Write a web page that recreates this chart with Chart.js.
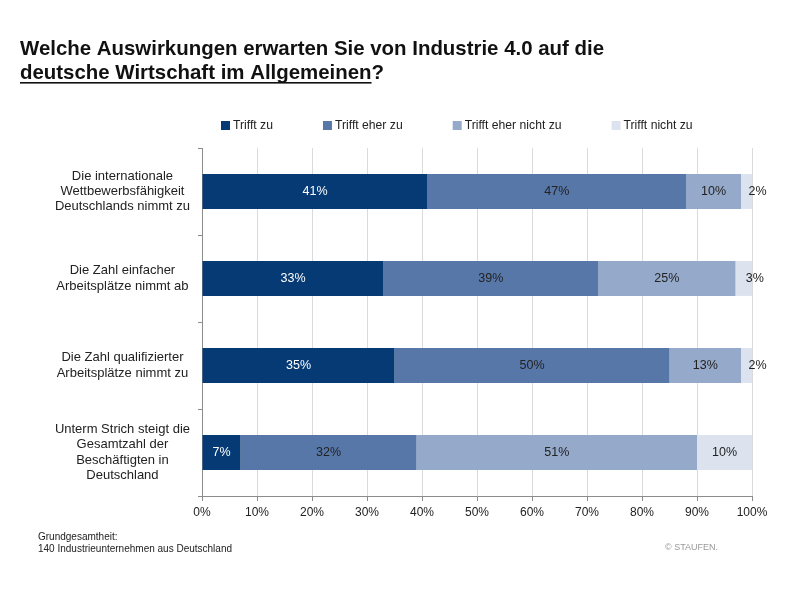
<!DOCTYPE html>
<html>
<head>
<meta charset="utf-8">
<script src="https://cdn.jsdelivr.net/npm/chart.js@4"></script>
<style>
    html, body { margin: 0; padding: 0; background: #fff; }
    #wrap { width: 800px; height: 593px; }
</style>
</head>
<body>
<div id="wrap"><canvas id="chart-bar" width="800" height="593"></canvas></div>
<script>
const categories = [
    ['Die internationale', 'Wettbewerbsfähigkeit', 'Deutschlands nimmt zu'],
    ['Die Zahl einfacher', 'Arbeitsplätze nimmt ab'],
    ['Die Zahl qualifizierter', 'Arbeitsplätze nimmt zu'],
    ['Unterm Strich steigt die', 'Gesamtzahl der', 'Beschäftigten in', 'Deutschland']
]
const seriesNames = ['Trifft zu', 'Trifft eher zu', 'Trifft eher nicht zu', 'Trifft nicht zu']
const trifftZu = [41, 33, 35, 7]
const trifftEherZu = [47, 39, 50, 32]
const trifftEherNichtZu = [10, 25, 13, 51]
const trifftNichtZu = [2, 3, 2, 10]
const xTicks = [0, 10, 20, 30, 40, 50, 60, 70, 80, 90, 100]

const colors = ['#063a74', '#5877a9', '#95a9ca', '#dce3ef']
const labelColors = ['#ffffff', '#222222', '#222222', '#222222']
const FONT = "'Liberation Sans', Arial, sans-serif"

// title, legend, footer
const decorPlugin = {
    id: 'decor',
    afterDraw(chart) {
        const ctx = chart.ctx
        ctx.save()
        ctx.fillStyle = '#111'
        ctx.textBaseline = 'alphabetic'
        ctx.textAlign = 'left'
        ctx.font = 'bold 21px ' + FONT

        let line1 = 'Welche Auswirkungen erwarten Sie von Industrie 4.0 auf die'
        let w1 = ctx.measureText(line1).width
        let sx = 584 / w1
        ctx.save()
        ctx.translate(20, 55)
        ctx.scale(sx, 1)
        ctx.fillText(line1, 0, 0)
        ctx.restore()

        let part = 'deutsche Wirtschaft im Allgemeinen'
        let wp = ctx.measureText(part).width * sx
        ctx.save()
        ctx.translate(20, 79)
        ctx.scale(sx, 1)
        ctx.fillText(part + '?', 0, 0)
        ctx.restore()
        ctx.fillRect(20, 82, wp, 1.6)

        // legend
        ctx.font = '12.2px ' + FONT
        ctx.textBaseline = 'middle'
        let x = 221
        chart.data.datasets.forEach((ds, i) => {
            ctx.fillStyle = ds.backgroundColor
            ctx.fillRect(x, 121, 9, 9)
            ctx.fillStyle = '#222'
            ctx.fillText(ds.label, x + 12, 126)
            x += 12 + ctx.measureText(ds.label).width + 50
        })

        // footer
        ctx.fillStyle = '#222'
        ctx.font = '10px ' + FONT
        ctx.fillText('Grundgesamtheit:', 38, 537)
        ctx.fillText('140 Industrieunternehmen aus Deutschland', 38, 549)
        ctx.fillStyle = '#999'
        ctx.font = '9px ' + FONT
        ctx.fillText('© STAUFEN.', 665, 548)
        ctx.restore()
    }
}

// values on the bars
const valuePlugin = {
    id: 'values',
    afterDatasetsDraw(chart) {
        const ctx = chart.ctx
        ctx.save()
        ctx.font = '12.5px ' + FONT
        ctx.textBaseline = 'middle'
        chart.data.datasets.forEach((ds, i) => {
            chart.getDatasetMeta(i).data.forEach((bar, j) => {
                let v = ds.data[j]
                let cx = (bar.x + bar.base) / 2
                ctx.fillStyle = labelColors[i]
                if (v < 5) {
                    ctx.textAlign = 'left'
                    ctx.fillText(v + '%', cx + 2, bar.y)
                } else {
                    ctx.textAlign = 'center'
                    ctx.fillText(v + '%', cx, bar.y)
                }
            })
        })
        ctx.restore()
    }
}

let values = [trifftZu, trifftEherZu, trifftEherNichtZu, trifftNichtZu]

new Chart(document.getElementById('chart-bar'), {
    type: 'bar',
    data: {
        labels: categories,
        datasets: seriesNames.map((name, i) => ({
            label: name,
            data: values[i],
            backgroundColor: colors[i],
            borderWidth: 0,
            barPercentage: 0.4,
            categoryPercentage: 1.0
        }))
    },
    options: {
        responsive: false,
        animation: false,
        indexAxis: 'y',
        layout: {
            padding: { top: 148, right: 48, bottom: 67, left: 0 }
        },
        scales: {
            x: {
                stacked: true,
                min: 0,
                max: 100,
                afterBuildTicks: (scale) => { scale.ticks = xTicks.map(v => ({ value: v })) },
                afterFit: (scale) => { scale.height = 30 },
                ticks: {
                    color: '#222',
                    font: { family: FONT, size: 12 },
                    padding: 4,
                    callback: (v) => v + '%'
                },
                border: { display: true, color: '#8c8c8c', width: 1 },
                grid: {
                    display: true,
                    color: '#dadada',
                    lineWidth: 1,
                    tickLength: 5,
                    tickColor: '#8c8c8c'
                }
            },
            y: {
                stacked: true,
                afterFit: (scale) => { scale.width = 202 },
                ticks: {
                    color: '#222',
                    font: { family: FONT, size: 13, lineHeight: 1.18 },
                    crossAlign: 'center',
                    padding: 8
                },
                border: { display: true, color: '#8c8c8c', width: 1 },
                grid: {
                    display: true,
                    offset: true,
                    drawOnChartArea: false,
                    tickLength: 4,
                    tickColor: '#8c8c8c'
                }
            }
        },
        plugins: {
            title: { display: false },
            legend: { display: false },
            tooltip: { enabled: false }
        }
    },
    plugins: [valuePlugin, decorPlugin]
})
</script>
</body>
</html>
